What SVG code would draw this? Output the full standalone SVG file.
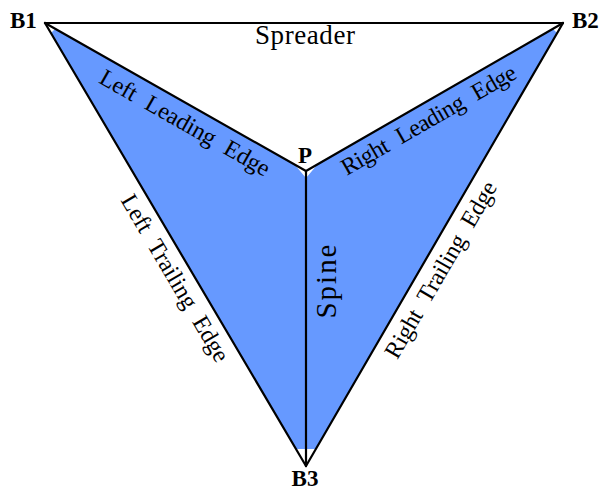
<svg xmlns="http://www.w3.org/2000/svg" width="602" height="490" viewBox="0 0 602 490">
<style>
.ln{stroke:#000;stroke-width:2.2;fill:none;stroke-linecap:round;stroke-linejoin:round}
.lbl{font-family:"Liberation Serif","Times New Roman",serif;font-size:24px;fill:#000;text-anchor:middle;word-spacing:7px}
.big{font-size:27px;word-spacing:0}
.spine{font-size:29px;word-spacing:0}
.node{font-family:"Liberation Serif","Times New Roman",serif;font-size:23px;font-weight:bold;fill:#000}
</style>
<rect width="602" height="490" fill="#fff"/>
<g id="sail">
<polygon points="55,29 295,165 306,178 317,165 553,29 557,33 316,449 296,449 51,33" fill="#6699ff"/>
</g>
<g id="connectors">
<line class="ln" x1="45" y1="23" x2="563" y2="23"/>
<line class="ln" x1="45" y1="23" x2="306" y2="171"/>
<line class="ln" x1="306" y1="171" x2="563" y2="23"/>
<line class="ln" x1="45" y1="23" x2="306" y2="466"/>
<line class="ln" x1="563" y1="23" x2="306" y2="466"/>
<line class="ln" x1="306" y1="171" x2="306" y2="466"/>
</g>
<g id="edge-labels">
<text class="lbl big" x="305" y="44" textLength="100" lengthAdjust="spacing">Spreader</text>
<text class="lbl" transform="translate(194,107) rotate(29.6)" x="0" y="26" textLength="192" lengthAdjust="spacing">Left Leading Edge</text>
<text class="lbl" transform="translate(420,105) rotate(-29.9)" x="0" y="25" textLength="198" lengthAdjust="spacing">Right Leading Edge</text>
<text class="lbl" transform="translate(190,269.5) rotate(59.5)" x="0" y="25" textLength="190" lengthAdjust="spacing">Left Trailing Edge</text>
<text class="lbl" transform="translate(425,260.6) rotate(-59.9)" x="0" y="26" textLength="200" lengthAdjust="spacing">Right Trailing Edge</text>
<text class="lbl spine" transform="translate(336,281.5) rotate(-90)" x="0" y="0" textLength="74" lengthAdjust="spacing">Spine</text>
</g>
<g id="B1"><text class="node" x="10" y="28">B1</text></g>
<g id="B2"><text class="node" x="572" y="28">B2</text></g>
<g id="P"><text class="node" x="305" y="163" text-anchor="middle">P</text></g>
<g id="B3"><text class="node" x="305" y="486" text-anchor="middle">B3</text></g>
</svg>
